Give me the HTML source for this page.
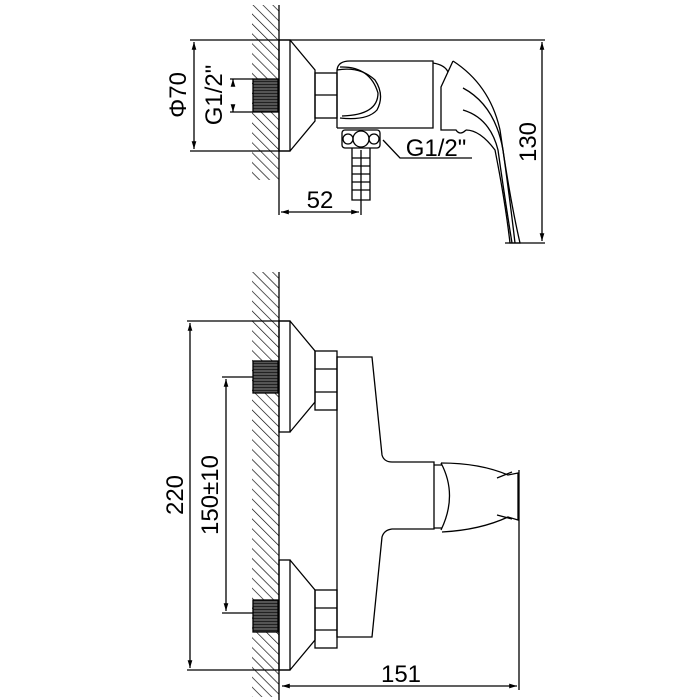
<!DOCTYPE html>
<html><head><style>html,body{margin:0;padding:0;background:#fff}svg{display:block}</style></head>
<body>
<svg width="700" height="700" viewBox="0 0 700 700" xmlns="http://www.w3.org/2000/svg">
<defs>
<pattern id="h" width="7" height="7" patternUnits="userSpaceOnUse" patternTransform="rotate(-45)">
<line x1="0" y1="0" x2="0" y2="7" stroke="#000" stroke-width="1.3"/>
</pattern>
<pattern id="t" width="3" height="3" patternUnits="userSpaceOnUse">
<rect width="3" height="3" fill="#555"/><line x1="0" y1="0.5" x2="3" y2="0.5" stroke="#222" stroke-width="1"/>
</pattern>
<marker id="a" viewBox="0 0 10 10" refX="10" refY="5" markerWidth="8" markerHeight="6" orient="auto-start-reverse">
<path d="M0,2 L10,5 L0,8 z" fill="#000"/></marker>
</defs>
<g fill="none" stroke="#000" stroke-width="1.3" font-family="Liberation Sans, sans-serif">
<!-- TOP VIEW -->
<rect x="252" y="5" width="27" height="175" fill="url(#h)" stroke="none"/>
<line x1="279" y1="5" x2="279" y2="215"/>
<rect x="253" y="79" width="25" height="33" fill="url(#t)" stroke="#000"/>
<line x1="190" y1="40" x2="545" y2="40"/>
<line x1="190" y1="151" x2="290" y2="151"/>
<line x1="194" y1="42" x2="194" y2="149" marker-start="url(#a)" marker-end="url(#a)"/>
<line x1="230" y1="79" x2="253" y2="79"/><line x1="230" y1="112" x2="253" y2="112"/>
<line x1="233" y1="86" x2="233" y2="79" marker-end="url(#a)"/><line x1="233" y1="105" x2="233" y2="112" marker-end="url(#a)"/>
<rect x="279" y="40" width="11" height="111"/>
<path d="M290,40 L315,70 L315,121 L290,151"/>
<rect x="315" y="73" width="22" height="45"/>
<line x1="315" y1="95" x2="337" y2="95"/>
<path d="M337,128 L337,70 Q338,61 350,61 L433,61 L433,128 L337,128"/>
<path d="M337,70 Q360,66 375,80 Q385,95 377,110 Q367,121 340,118"/>
<path d="M340,67 Q370,66 378,93 Q378,115 342,116"/>
<path d="M433,63 Q445,65 448,72"/>
<path d="M453,61 L441,87 L441,130 L456,130 Q460,136 466,130"/>
<path d="M453,61 Q490,85 500,130 Q510,200 520,243 L510,243 Q505,200 495,150 Q480,130 466,130"/>
<path d="M463,88 Q495,105 503,150 Q510,200 515,243"/>
<path d="M463,110 Q490,118 498,150 Q505,200 512,243"/>
<line x1="505" y1="243" x2="545" y2="243"/>
<line x1="542" y1="42" x2="542" y2="241" marker-start="url(#a)" marker-end="url(#a)"/>
<rect x="342" y="130" width="38" height="18" rx="3"/>
<circle cx="361" cy="139" r="8"/><circle cx="348" cy="139" r="5"/><circle cx="374" cy="139" r="5"/>
<path d="M352,148 L352,200 L370,200 L370,148"/>
<path d="M352,158 L370,158 M352,166 L370,166 M352,174 L370,174 M352,182 L370,182 M352,190 L370,190"/>
<path d="M383,140 L400,158 L472,158"/>
<line x1="361" y1="150" x2="361" y2="215"/>
<line x1="281" y1="212" x2="359" y2="212" marker-start="url(#a)" marker-end="url(#a)"/>
<!-- BOTTOM VIEW -->
<rect x="252" y="272" width="27" height="425" fill="url(#h)" stroke="none"/>
<line x1="279" y1="272" x2="279" y2="700"/>
<rect x="253" y="361" width="25" height="32" fill="url(#t)" stroke="#000"/>
<rect x="253" y="600" width="25" height="32" fill="url(#t)" stroke="#000"/>
<line x1="187" y1="321" x2="290" y2="321"/><line x1="187" y1="670" x2="290" y2="670"/>
<line x1="190" y1="323" x2="190" y2="668" marker-start="url(#a)" marker-end="url(#a)"/>
<line x1="222" y1="377" x2="253" y2="377"/><line x1="222" y1="613" x2="253" y2="613"/>
<line x1="226" y1="379" x2="226" y2="611" marker-start="url(#a)" marker-end="url(#a)"/>
<rect x="279" y="321" width="11" height="111"/>
<path d="M290,321 L315,351 L315,402 L290,432"/>
<rect x="315" y="351" width="22" height="59"/>
<path d="M315,369 L337,369 M315,392 L337,392"/>
<rect x="279" y="560" width="11" height="110"/>
<path d="M290,560 L315,590 L315,640 L290,670"/>
<rect x="315" y="590" width="22" height="58"/>
<path d="M315,608 L337,608 M315,630 L337,630"/>
<path d="M337,357 L372,357 L382,455 Q384,462 392,462 L434,462 L434,529 L392,529 Q384,530 382,537 L372,637 L337,637 Z"/>
<path d="M434,465 L442,465 M434,528 L442,528"/>
<path d="M441,463 Q458,495 441,530"/>
<path d="M441,463 Q480,463 508,475 L518,473 L518,520 L508,517 Q480,530 442,532"/>
<path d="M497,478 L512,472 M497,515 L512,519"/>
<line x1="519" y1="470" x2="519" y2="690"/>
<line x1="282" y1="686" x2="517" y2="686" marker-start="url(#a)" marker-end="url(#a)"/>
</g>
<g font-family="Liberation Sans, sans-serif" font-size="24" fill="#000" text-anchor="middle">
<text transform="translate(186,95) rotate(-90)">Φ70</text>
<text transform="translate(222,95) rotate(-90)">G1/2"</text>
<text x="436" y="156">G1/2"</text>
<text transform="translate(536,142) rotate(-90)">130</text>
<text x="320" y="208">52</text>
<text transform="translate(183,495) rotate(-90)">220</text>
<text transform="translate(218,495) rotate(-90)">150±10</text>
<text x="401" y="682">151</text>
</g>
</svg>
</body></html>
